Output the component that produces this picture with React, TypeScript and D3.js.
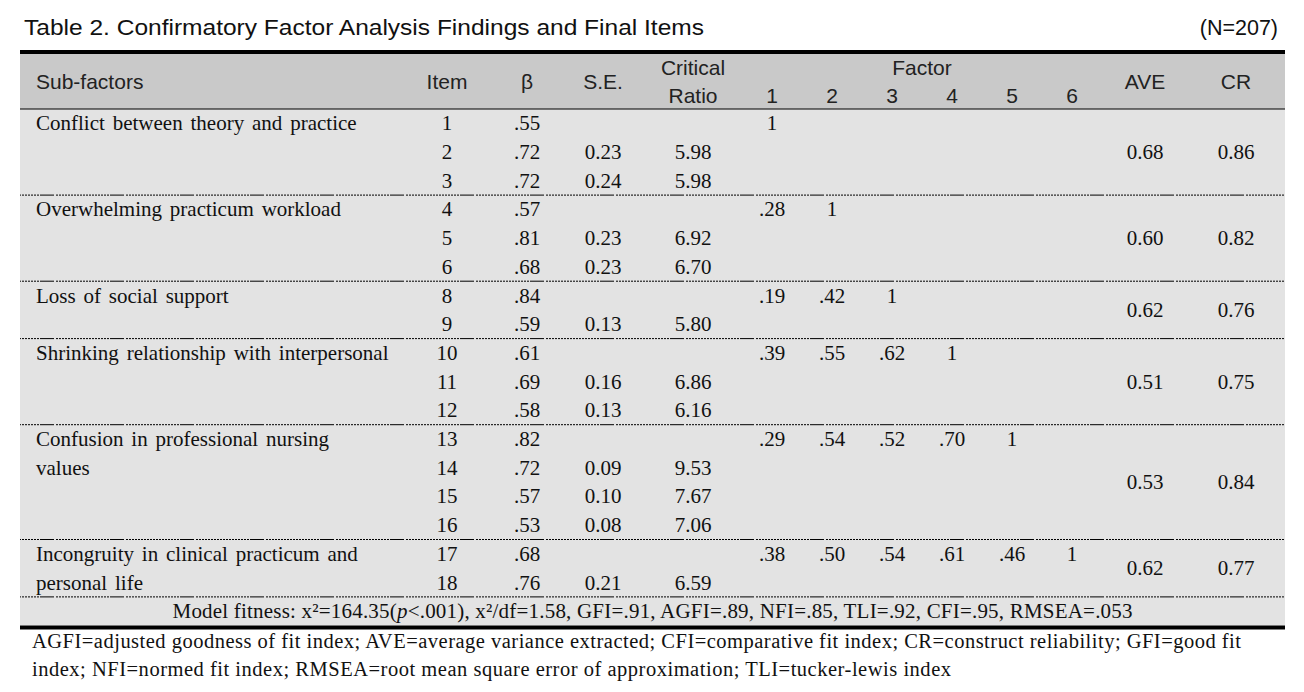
import React from "react";
import * as d3 from "d3";

const title = "Table 2. Confirmatory Factor Analysis Findings and Final Items";
const sampleNote = "(N=207)";
const factorNames = ["1", "2", "3", "4", "5", "6"];

const subFactors: string[][] = [
  ["Conflict between theory and practice"],
  ["Overwhelming practicum workload"],
  ["Loss of social support"],
  ["Shrinking relationship with interpersonal"],
  ["Confusion in professional nursing", "values"],
  ["Incongruity in clinical practicum and", "personal life"],
];
const items: string[][] = [
  ["1", "2", "3"],
  ["4", "5", "6"],
  ["8", "9"],
  ["10", "11", "12"],
  ["13", "14", "15", "16"],
  ["17", "18"],
];
const betas: string[][] = [
  [".55", ".72", ".72"],
  [".57", ".81", ".68"],
  [".84", ".59"],
  [".61", ".69", ".58"],
  [".82", ".72", ".57", ".53"],
  [".68", ".76"],
];
const seValues: string[][] = [
  ["", "0.23", "0.24"],
  ["", "0.23", "0.23"],
  ["", "0.13"],
  ["", "0.16", "0.13"],
  ["", "0.09", "0.10", "0.08"],
  ["", "0.21"],
];
const criticalRatios: string[][] = [
  ["", "5.98", "5.98"],
  ["", "6.92", "6.70"],
  ["", "5.80"],
  ["", "6.86", "6.16"],
  ["", "9.53", "7.67", "7.06"],
  ["", "6.59"],
];
const factorCorrelations: string[][] = [
  ["1"],
  [".28", "1"],
  [".19", ".42", "1"],
  [".39", ".55", ".62", "1"],
  [".29", ".54", ".52", ".70", "1"],
  [".38", ".50", ".54", ".61", ".46", "1"],
];
const aveValues = ["0.68", "0.60", "0.62", "0.51", "0.53", "0.62"];
const crValues = ["0.86", "0.82", "0.76", "0.75", "0.84", "0.77"];
const footnotes = [
  "AGFI=adjusted goodness of fit index; AVE=average variance extracted; CFI=comparative fit index; CR=construct reliability; GFI=good fit",
  "index; NFI=normed fit index; RMSEA=root mean square error of approximation; TLI=tucker-lewis index",
];

const SANS = "'Liberation Sans', Arial, sans-serif";
const SERIF = "'Liberation Serif', 'Times New Roman', serif";

// dotted separator with a short solid segment every 70px
const sepDash = [...Array(18).fill("2,1"), "14,2"].join(",");

export default function App() {
  const W = 1304;
  const H = 692;
  const left = 20;
  const right = 1285;
  const headerTop = 54;
  const headerBottom = 109;
  const rowH = 28.7;

  const totalRows = d3.sum(items, (g) => g.length) + 1;
  const y = d3.scaleLinear().domain([0, totalRows]).range([headerBottom, headerBottom + rowH * totalRows]);

  const colX = {
    sub: 36,
    item: 447,
    beta: 527,
    se: 603,
    cr: 693,
    ave: 1145,
    crv: 1236,
  };
  const fx = d3.scaleLinear().domain([0, 5]).range([772, 1072]);

  const groupStarts: number[] = [];
  let acc = 0;
  items.forEach((g) => {
    groupStarts.push(acc);
    acc += g.length;
  });
  const modelRow = acc;
  const tableBottom = y(totalRows);

  const bodyText = { fontFamily: SERIF, fontSize: 21, fill: "#111" } as const;
  const headText = { fontFamily: SANS, fontSize: 21, fill: "#222" } as const;

  const dotted = (yy: number, key: string) => (
    <line key={key} x1={left} x2={right} y1={yy} y2={yy} stroke="#000" strokeWidth={1}
      strokeDasharray={sepDash} strokeDashoffset={34} />
  );

  return (
    <svg width={W} height={H} viewBox={`0 0 ${W} ${H}`} style={{ position: "absolute", left: 0, top: 0, background: "#fff" }}>
      <rect x={0} y={0} width={W} height={H} fill="#fff" />
      <text x={24} y={35} fontFamily={SANS} fontSize={21.5} fill="#111" textLength={680} lengthAdjust="spacingAndGlyphs">
        {title}
      </text>
      <text x={1278} y={35} fontFamily={SANS} fontSize={21.5} fill="#111" textAnchor="end">
        {sampleNote}
      </text>

      <rect x={left} y={headerTop} width={right - left} height={headerBottom - headerTop} fill="#c9c9c9" />
      <rect x={left} y={headerBottom} width={right - left} height={tableBottom - headerBottom} fill="#e3e3e3" />

      <line x1={left} x2={right} y1={52} y2={52} stroke="#000" strokeWidth={4} />
      <line x1={left} x2={right} y1={headerBottom} y2={headerBottom} stroke="#000" strokeWidth={1.2} />

      <g {...headText} dominantBaseline="central">
        <text x={colX.sub} y={81}>Sub-factors</text>
        <text x={colX.item} y={81} textAnchor="middle">Item</text>
        <text x={colX.beta} y={81} textAnchor="middle">β</text>
        <text x={colX.se} y={81} textAnchor="middle">S.E.</text>
        <text x={colX.cr} y={67} textAnchor="middle">Critical</text>
        <text x={colX.cr} y={95} textAnchor="middle">Ratio</text>
        <text x={922} y={67} textAnchor="middle">Factor</text>
        {factorNames.map((f, i) => (
          <text key={f} x={fx(i)} y={95} textAnchor="middle">{f}</text>
        ))}
        <text x={colX.ave} y={81} textAnchor="middle">AVE</text>
        <text x={colX.crv} y={81} textAnchor="middle">CR</text>
      </g>

      <g {...bodyText} dominantBaseline="central">
        {items.map((g, gi) => {
          const s = groupStarts[gi];
          const mid = (y(s) + y(s + g.length)) / 2;
          return (
            <g key={gi}>
              {subFactors[gi].map((line, li) => (
                <text key={li} x={colX.sub} y={y(s + li) + rowH / 2} wordSpacing={2.6}>{line}</text>
              ))}
              {g.map((it, ri) => (
                <g key={ri}>
                  <text x={colX.item} y={y(s + ri) + rowH / 2} textAnchor="middle">{it}</text>
                  <text x={colX.beta} y={y(s + ri) + rowH / 2} textAnchor="middle">{betas[gi][ri]}</text>
                  <text x={colX.se} y={y(s + ri) + rowH / 2} textAnchor="middle">{seValues[gi][ri]}</text>
                  <text x={colX.cr} y={y(s + ri) + rowH / 2} textAnchor="middle">{criticalRatios[gi][ri]}</text>
                </g>
              ))}
              {factorCorrelations[gi].map((v, fi) => (
                <text key={"f" + fi} x={fx(fi)} y={y(s) + rowH / 2} textAnchor="middle">{v}</text>
              ))}
              <text x={colX.ave} y={mid} textAnchor="middle">{aveValues[gi]}</text>
              <text x={colX.crv} y={mid} textAnchor="middle">{crValues[gi]}</text>
            </g>
          );
        })}
        <text x={(left + right) / 2} y={y(modelRow) + rowH / 2} textAnchor="middle" textLength={960} lengthAdjust="spacing">
          Model fitness: x²=164.35(<tspan fontStyle="italic">p</tspan>&lt;.001), x²/df=1.58, GFI=.91, AGFI=.89, NFI=.85, TLI=.92, CFI=.95, RMSEA=.053
        </text>
      </g>

      {groupStarts.map((s, gi) => dotted(y(s + items[gi].length), "d" + gi))}

      <line x1={left} x2={right} y1={tableBottom + 2} y2={tableBottom + 2} stroke="#000" strokeWidth={4} />

      <g fontFamily={SERIF} fontSize={20.5} fill="#111" dominantBaseline="central">
        <text x={32} y={641} textLength={1209} lengthAdjust="spacing">{footnotes[0]}</text>
        <text x={32} y={669} textLength={919} lengthAdjust="spacing">{footnotes[1]}</text>
      </g>
    </svg>
  );
}
